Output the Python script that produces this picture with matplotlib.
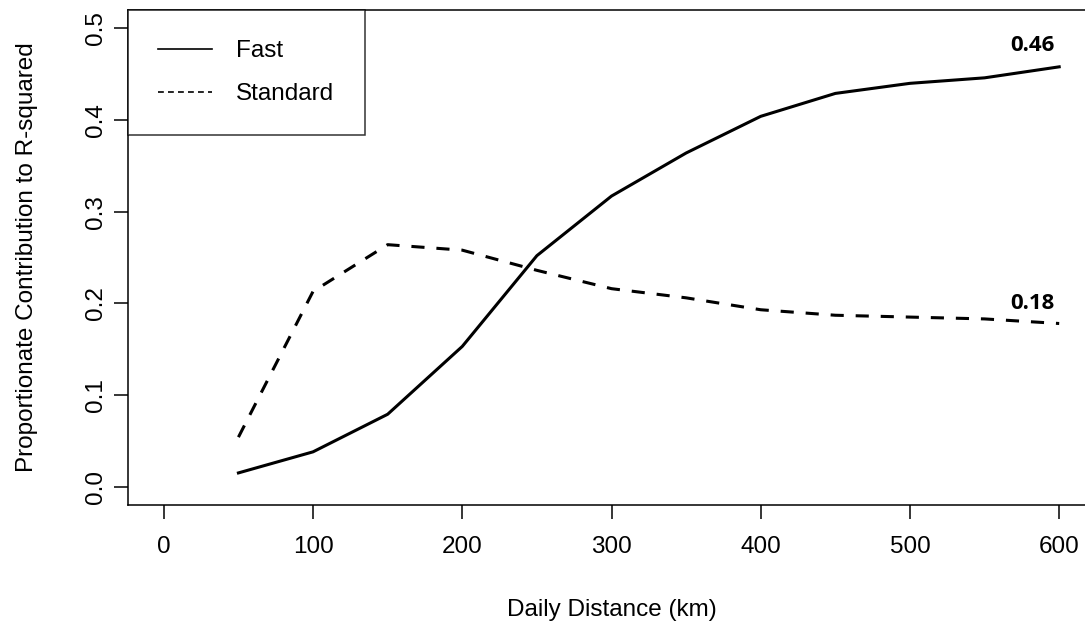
import matplotlib.pyplot as plt
from matplotlib.lines import Line2D

# Data
distance = [50, 100, 150, 200, 250, 300, 350, 400, 450, 500, 550, 600]
fast = [0.015, 0.038, 0.079, 0.153, 0.252, 0.317, 0.364, 0.404, 0.429, 0.440, 0.446, 0.458]
standard = [0.054, 0.213, 0.264, 0.258, 0.236, 0.216, 0.206, 0.193, 0.187, 0.185, 0.183, 0.178]
end_labels = ["0.46", "0.18"]

xticks = [0, 100, 200, 300, 400, 500, 600]
yticks = [0.0, 0.1, 0.2, 0.3, 0.4, 0.5]

plt.rcParams['font.family'] = ['Liberation Sans', 'DejaVu Sans']
fs = 17.5

fig = plt.figure(figsize=(10.85, 6.29), dpi=100)
ax = fig.add_axes([128/1085, 1 - 505/629, (1095 - 128)/1085, (505 - 10)/629])

ax.plot(distance, fast, color='black', lw=2.2, solid_joinstyle='round')
ax.plot(distance, standard, color='black', lw=2.2, linestyle=(0, (4.3, 3.9)))

# bold end labels
ax.text(582, 0.481, end_labels[0], fontsize=16, fontweight='bold', ha='center', va='center',
        family=['Open Sans', 'DejaVu Sans'])
ax.text(582, 0.200, end_labels[1], fontsize=16, fontweight='bold', ha='center', va='center',
        family=['Open Sans', 'DejaVu Sans'])

ax.set_xlim(-24, 624)
ax.set_ylim(-0.02, 0.52)
ax.set_xticks(xticks)
ax.set_xticklabels([str(t) for t in xticks])
ax.set_yticks(yticks)
ax.set_yticklabels(['%.1f' % t for t in yticks], rotation=90, va='center')

ax.spines['right'].set_visible(False)
for s in ['left', 'top', 'bottom']:
    ax.spines[s].set_linewidth(1.1)
ax.tick_params(direction='out', length=10, width=1.1, labelsize=fs)
ax.tick_params(axis='x', pad=12)
ax.tick_params(axis='y', pad=5)

ax.set_xlabel('Daily Distance (km)', fontsize=fs, labelpad=30)
ax.set_ylabel('Proportionate Contribution to R-squared', fontsize=fs, labelpad=34)

handles = [Line2D([], [], color='black', lw=1.2),
           Line2D([], [], color='black', lw=1.2, linestyle=(0, (3.5, 2.5)))]
leg = ax.legend(handles, ['Fast', 'Standard'], loc='upper left', fontsize=fs,
                frameon=True, fancybox=False, borderaxespad=0, handlelength=2.2,
                handletextpad=1.0, borderpad=1.25, labelspacing=0.85)
leg.get_frame().set_edgecolor('black')
leg.get_frame().set_linewidth(1.1)

fig.savefig('out.png', dpi=100)
